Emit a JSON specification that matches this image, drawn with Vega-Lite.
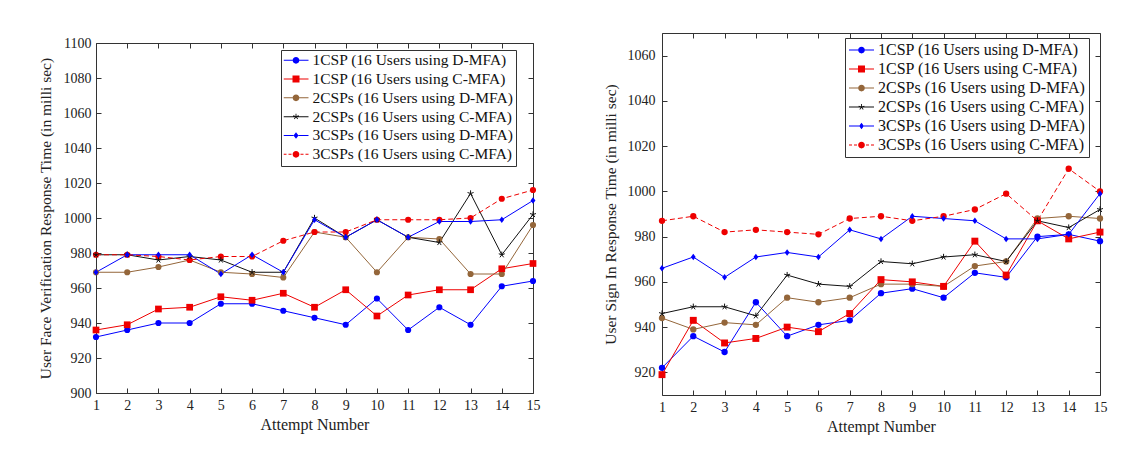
{
  "$schema": "https://vega.github.io/schema/vega-lite/v6.json",
  "background": "white",
  "padding": {"left": 37, "top": 32, "right": 0, "bottom": 0},
  "config": {
    "view": {"stroke": "#333", "strokeWidth": 1},
    "font": "Liberation Serif",
    "axis": {"labelFont": "Liberation Serif", "titleFont": "Liberation Serif", "labelColor": "#222", "titleColor": "#222", "titleFontWeight": "normal", "tickColor": "#333", "tickWidth": 1, "tickSize": -5, "labelPadding": 10, "domain": false, "grid": false, "labelFlush": false, "labelOverlap": false, "labelFontSize": 14, "format": "d"}
  },
  "datasets": {
    "face": [
      {"attempt":1,"series":"1CSP (16 Users using D-MFA)","ms":932},{"attempt":2,"series":"1CSP (16 Users using D-MFA)","ms":936},{"attempt":3,"series":"1CSP (16 Users using D-MFA)","ms":940},{"attempt":4,"series":"1CSP (16 Users using D-MFA)","ms":940},{"attempt":5,"series":"1CSP (16 Users using D-MFA)","ms":951},{"attempt":6,"series":"1CSP (16 Users using D-MFA)","ms":951},{"attempt":7,"series":"1CSP (16 Users using D-MFA)","ms":947},{"attempt":8,"series":"1CSP (16 Users using D-MFA)","ms":943},{"attempt":9,"series":"1CSP (16 Users using D-MFA)","ms":939},{"attempt":10,"series":"1CSP (16 Users using D-MFA)","ms":954},{"attempt":11,"series":"1CSP (16 Users using D-MFA)","ms":936},{"attempt":12,"series":"1CSP (16 Users using D-MFA)","ms":949},{"attempt":13,"series":"1CSP (16 Users using D-MFA)","ms":939},{"attempt":14,"series":"1CSP (16 Users using D-MFA)","ms":961},{"attempt":15,"series":"1CSP (16 Users using D-MFA)","ms":964},
      {"attempt":1,"series":"1CSP (16 Users using C-MFA)","ms":936},{"attempt":2,"series":"1CSP (16 Users using C-MFA)","ms":939},{"attempt":3,"series":"1CSP (16 Users using C-MFA)","ms":948},{"attempt":4,"series":"1CSP (16 Users using C-MFA)","ms":949},{"attempt":5,"series":"1CSP (16 Users using C-MFA)","ms":955},{"attempt":6,"series":"1CSP (16 Users using C-MFA)","ms":953},{"attempt":7,"series":"1CSP (16 Users using C-MFA)","ms":957},{"attempt":8,"series":"1CSP (16 Users using C-MFA)","ms":949},{"attempt":9,"series":"1CSP (16 Users using C-MFA)","ms":959},{"attempt":10,"series":"1CSP (16 Users using C-MFA)","ms":944},{"attempt":11,"series":"1CSP (16 Users using C-MFA)","ms":956},{"attempt":12,"series":"1CSP (16 Users using C-MFA)","ms":959},{"attempt":13,"series":"1CSP (16 Users using C-MFA)","ms":959},{"attempt":14,"series":"1CSP (16 Users using C-MFA)","ms":971},{"attempt":15,"series":"1CSP (16 Users using C-MFA)","ms":974},
      {"attempt":1,"series":"2CSPs (16 Users using D-MFA)","ms":969},{"attempt":2,"series":"2CSPs (16 Users using D-MFA)","ms":969},{"attempt":3,"series":"2CSPs (16 Users using D-MFA)","ms":972},{"attempt":4,"series":"2CSPs (16 Users using D-MFA)","ms":976},{"attempt":5,"series":"2CSPs (16 Users using D-MFA)","ms":969},{"attempt":6,"series":"2CSPs (16 Users using D-MFA)","ms":968},{"attempt":7,"series":"2CSPs (16 Users using D-MFA)","ms":966},{"attempt":8,"series":"2CSPs (16 Users using D-MFA)","ms":992},{"attempt":9,"series":"2CSPs (16 Users using D-MFA)","ms":989},{"attempt":10,"series":"2CSPs (16 Users using D-MFA)","ms":969},{"attempt":11,"series":"2CSPs (16 Users using D-MFA)","ms":989},{"attempt":12,"series":"2CSPs (16 Users using D-MFA)","ms":988},{"attempt":13,"series":"2CSPs (16 Users using D-MFA)","ms":968},{"attempt":14,"series":"2CSPs (16 Users using D-MFA)","ms":968},{"attempt":15,"series":"2CSPs (16 Users using D-MFA)","ms":996},
      {"attempt":1,"series":"2CSPs (16 Users using C-MFA)","ms":979},{"attempt":2,"series":"2CSPs (16 Users using C-MFA)","ms":979},{"attempt":3,"series":"2CSPs (16 Users using C-MFA)","ms":976},{"attempt":4,"series":"2CSPs (16 Users using C-MFA)","ms":978},{"attempt":5,"series":"2CSPs (16 Users using C-MFA)","ms":976},{"attempt":6,"series":"2CSPs (16 Users using C-MFA)","ms":969},{"attempt":7,"series":"2CSPs (16 Users using C-MFA)","ms":969},{"attempt":8,"series":"2CSPs (16 Users using C-MFA)","ms":1000},{"attempt":9,"series":"2CSPs (16 Users using C-MFA)","ms":989},{"attempt":10,"series":"2CSPs (16 Users using C-MFA)","ms":999},{"attempt":11,"series":"2CSPs (16 Users using C-MFA)","ms":989},{"attempt":12,"series":"2CSPs (16 Users using C-MFA)","ms":986},{"attempt":13,"series":"2CSPs (16 Users using C-MFA)","ms":1014},{"attempt":14,"series":"2CSPs (16 Users using C-MFA)","ms":979},{"attempt":15,"series":"2CSPs (16 Users using C-MFA)","ms":1002},
      {"attempt":1,"series":"3CSPs (16 Users using D-MFA)","ms":969},{"attempt":2,"series":"3CSPs (16 Users using D-MFA)","ms":979},{"attempt":3,"series":"3CSPs (16 Users using D-MFA)","ms":979},{"attempt":4,"series":"3CSPs (16 Users using D-MFA)","ms":979},{"attempt":5,"series":"3CSPs (16 Users using D-MFA)","ms":968},{"attempt":6,"series":"3CSPs (16 Users using D-MFA)","ms":979},{"attempt":7,"series":"3CSPs (16 Users using D-MFA)","ms":969},{"attempt":8,"series":"3CSPs (16 Users using D-MFA)","ms":999},{"attempt":9,"series":"3CSPs (16 Users using D-MFA)","ms":989},{"attempt":10,"series":"3CSPs (16 Users using D-MFA)","ms":999},{"attempt":11,"series":"3CSPs (16 Users using D-MFA)","ms":989},{"attempt":12,"series":"3CSPs (16 Users using D-MFA)","ms":998},{"attempt":13,"series":"3CSPs (16 Users using D-MFA)","ms":998},{"attempt":14,"series":"3CSPs (16 Users using D-MFA)","ms":999},{"attempt":15,"series":"3CSPs (16 Users using D-MFA)","ms":1010},
      {"attempt":1,"series":"3CSPs (16 Users using C-MFA)","ms":979},{"attempt":2,"series":"3CSPs (16 Users using C-MFA)","ms":979},{"attempt":3,"series":"3CSPs (16 Users using C-MFA)","ms":978},{"attempt":4,"series":"3CSPs (16 Users using C-MFA)","ms":976},{"attempt":5,"series":"3CSPs (16 Users using C-MFA)","ms":978},{"attempt":6,"series":"3CSPs (16 Users using C-MFA)","ms":978},{"attempt":7,"series":"3CSPs (16 Users using C-MFA)","ms":987},{"attempt":8,"series":"3CSPs (16 Users using C-MFA)","ms":992},{"attempt":9,"series":"3CSPs (16 Users using C-MFA)","ms":992},{"attempt":10,"series":"3CSPs (16 Users using C-MFA)","ms":999},{"attempt":11,"series":"3CSPs (16 Users using C-MFA)","ms":999},{"attempt":12,"series":"3CSPs (16 Users using C-MFA)","ms":999},{"attempt":13,"series":"3CSPs (16 Users using C-MFA)","ms":1000},{"attempt":14,"series":"3CSPs (16 Users using C-MFA)","ms":1011},{"attempt":15,"series":"3CSPs (16 Users using C-MFA)","ms":1016}
    ],
    "signin": [
      {"attempt":1,"series":"1CSP (16 Users using D-MFA)","ms":922},{"attempt":2,"series":"1CSP (16 Users using D-MFA)","ms":936},{"attempt":3,"series":"1CSP (16 Users using D-MFA)","ms":929},{"attempt":4,"series":"1CSP (16 Users using D-MFA)","ms":951},{"attempt":5,"series":"1CSP (16 Users using D-MFA)","ms":936},{"attempt":6,"series":"1CSP (16 Users using D-MFA)","ms":941},{"attempt":7,"series":"1CSP (16 Users using D-MFA)","ms":943},{"attempt":8,"series":"1CSP (16 Users using D-MFA)","ms":955},{"attempt":9,"series":"1CSP (16 Users using D-MFA)","ms":957},{"attempt":10,"series":"1CSP (16 Users using D-MFA)","ms":953},{"attempt":11,"series":"1CSP (16 Users using D-MFA)","ms":964},{"attempt":12,"series":"1CSP (16 Users using D-MFA)","ms":962},{"attempt":13,"series":"1CSP (16 Users using D-MFA)","ms":980},{"attempt":14,"series":"1CSP (16 Users using D-MFA)","ms":981},{"attempt":15,"series":"1CSP (16 Users using D-MFA)","ms":978},
      {"attempt":1,"series":"1CSP (16 Users using C-MFA)","ms":919},{"attempt":2,"series":"1CSP (16 Users using C-MFA)","ms":943},{"attempt":3,"series":"1CSP (16 Users using C-MFA)","ms":933},{"attempt":4,"series":"1CSP (16 Users using C-MFA)","ms":935},{"attempt":5,"series":"1CSP (16 Users using C-MFA)","ms":940},{"attempt":6,"series":"1CSP (16 Users using C-MFA)","ms":938},{"attempt":7,"series":"1CSP (16 Users using C-MFA)","ms":946},{"attempt":8,"series":"1CSP (16 Users using C-MFA)","ms":961},{"attempt":9,"series":"1CSP (16 Users using C-MFA)","ms":960},{"attempt":10,"series":"1CSP (16 Users using C-MFA)","ms":958},{"attempt":11,"series":"1CSP (16 Users using C-MFA)","ms":978},{"attempt":12,"series":"1CSP (16 Users using C-MFA)","ms":963},{"attempt":13,"series":"1CSP (16 Users using C-MFA)","ms":987},{"attempt":14,"series":"1CSP (16 Users using C-MFA)","ms":979},{"attempt":15,"series":"1CSP (16 Users using C-MFA)","ms":982},
      {"attempt":1,"series":"2CSPs (16 Users using D-MFA)","ms":944},{"attempt":2,"series":"2CSPs (16 Users using D-MFA)","ms":939},{"attempt":3,"series":"2CSPs (16 Users using D-MFA)","ms":942},{"attempt":4,"series":"2CSPs (16 Users using D-MFA)","ms":941},{"attempt":5,"series":"2CSPs (16 Users using D-MFA)","ms":953},{"attempt":6,"series":"2CSPs (16 Users using D-MFA)","ms":951},{"attempt":7,"series":"2CSPs (16 Users using D-MFA)","ms":953},{"attempt":8,"series":"2CSPs (16 Users using D-MFA)","ms":959},{"attempt":9,"series":"2CSPs (16 Users using D-MFA)","ms":959},{"attempt":10,"series":"2CSPs (16 Users using D-MFA)","ms":958},{"attempt":11,"series":"2CSPs (16 Users using D-MFA)","ms":967},{"attempt":12,"series":"2CSPs (16 Users using D-MFA)","ms":969},{"attempt":13,"series":"2CSPs (16 Users using D-MFA)","ms":988},{"attempt":14,"series":"2CSPs (16 Users using D-MFA)","ms":989},{"attempt":15,"series":"2CSPs (16 Users using D-MFA)","ms":988},
      {"attempt":1,"series":"2CSPs (16 Users using C-MFA)","ms":946},{"attempt":2,"series":"2CSPs (16 Users using C-MFA)","ms":949},{"attempt":3,"series":"2CSPs (16 Users using C-MFA)","ms":949},{"attempt":4,"series":"2CSPs (16 Users using C-MFA)","ms":945},{"attempt":5,"series":"2CSPs (16 Users using C-MFA)","ms":963},{"attempt":6,"series":"2CSPs (16 Users using C-MFA)","ms":959},{"attempt":7,"series":"2CSPs (16 Users using C-MFA)","ms":958},{"attempt":8,"series":"2CSPs (16 Users using C-MFA)","ms":969},{"attempt":9,"series":"2CSPs (16 Users using C-MFA)","ms":968},{"attempt":10,"series":"2CSPs (16 Users using C-MFA)","ms":971},{"attempt":11,"series":"2CSPs (16 Users using C-MFA)","ms":972},{"attempt":12,"series":"2CSPs (16 Users using C-MFA)","ms":969},{"attempt":13,"series":"2CSPs (16 Users using C-MFA)","ms":987},{"attempt":14,"series":"2CSPs (16 Users using C-MFA)","ms":984},{"attempt":15,"series":"2CSPs (16 Users using C-MFA)","ms":992},
      {"attempt":1,"series":"3CSPs (16 Users using D-MFA)","ms":966},{"attempt":2,"series":"3CSPs (16 Users using D-MFA)","ms":971},{"attempt":3,"series":"3CSPs (16 Users using D-MFA)","ms":962},{"attempt":4,"series":"3CSPs (16 Users using D-MFA)","ms":971},{"attempt":5,"series":"3CSPs (16 Users using D-MFA)","ms":973},{"attempt":6,"series":"3CSPs (16 Users using D-MFA)","ms":971},{"attempt":7,"series":"3CSPs (16 Users using D-MFA)","ms":983},{"attempt":8,"series":"3CSPs (16 Users using D-MFA)","ms":979},{"attempt":9,"series":"3CSPs (16 Users using D-MFA)","ms":989},{"attempt":10,"series":"3CSPs (16 Users using D-MFA)","ms":988},{"attempt":11,"series":"3CSPs (16 Users using D-MFA)","ms":987},{"attempt":12,"series":"3CSPs (16 Users using D-MFA)","ms":979},{"attempt":13,"series":"3CSPs (16 Users using D-MFA)","ms":979},{"attempt":14,"series":"3CSPs (16 Users using D-MFA)","ms":981},{"attempt":15,"series":"3CSPs (16 Users using D-MFA)","ms":999},
      {"attempt":1,"series":"3CSPs (16 Users using C-MFA)","ms":987},{"attempt":2,"series":"3CSPs (16 Users using C-MFA)","ms":989},{"attempt":3,"series":"3CSPs (16 Users using C-MFA)","ms":982},{"attempt":4,"series":"3CSPs (16 Users using C-MFA)","ms":983},{"attempt":5,"series":"3CSPs (16 Users using C-MFA)","ms":982},{"attempt":6,"series":"3CSPs (16 Users using C-MFA)","ms":981},{"attempt":7,"series":"3CSPs (16 Users using C-MFA)","ms":988},{"attempt":8,"series":"3CSPs (16 Users using C-MFA)","ms":989},{"attempt":9,"series":"3CSPs (16 Users using C-MFA)","ms":987},{"attempt":10,"series":"3CSPs (16 Users using C-MFA)","ms":989},{"attempt":11,"series":"3CSPs (16 Users using C-MFA)","ms":992},{"attempt":12,"series":"3CSPs (16 Users using C-MFA)","ms":999},{"attempt":13,"series":"3CSPs (16 Users using C-MFA)","ms":987},{"attempt":14,"series":"3CSPs (16 Users using C-MFA)","ms":1010},{"attempt":15,"series":"3CSPs (16 Users using C-MFA)","ms":1000}
    ]
  },
  "spacing": 61,
  "resolve": {"scale": {"color": "independent", "shape": "independent"}, "legend": {"color": "independent", "shape": "independent"}},
  "hconcat": [
    {
      "spacing": 1,
      "resolve": {"scale": {"color": "independent", "shape": "independent"}, "legend": {"color": "independent", "shape": "independent"}},
      "vconcat": [
        {"width": 1, "height": 1, "view": {"stroke": null}, "data": {"values": []}, "mark": "point", "encoding": {}},
        {
          "width": 437, "height": 350,
          "data": {"name": "face"},
          "resolve": {"axis": {"x": "independent", "y": "independent"}},
          "layer": [
            {
              "mark": {"type": "point", "filled": true, "opacity": 0, "size": 1},
              "encoding": {
                "x": {"field": "attempt", "type": "quantitative", "scale": {"domain": [1, 15], "nice": false, "zero": false}, "axis": null},
                "y": {"field": "ms", "type": "quantitative", "scale": {"domain": [900, 1100], "nice": false, "zero": false}, "axis": null},
                "color": {"field": "series", "type": "nominal", "scale": {"domain": ["1CSP (16 Users using D-MFA)","1CSP (16 Users using C-MFA)","2CSPs (16 Users using D-MFA)","2CSPs (16 Users using C-MFA)","3CSPs (16 Users using D-MFA)","3CSPs (16 Users using C-MFA)"], "range": ["#0000ff","#ee0000","#94663a","#111111","#0000ff","#ee0000"]},
                  "legend": {"orient": "none", "legendX": 185, "legendY": 7, "title": null, "direction": "vertical", "fillColor": "white", "strokeColor": "#333", "padding": 2.5, "cornerRadius": 0, "labelFont": "Liberation Serif", "labelFontSize": 15.5, "labelColor": "#111", "labelLimit": 400, "labelOffset": 4, "symbolSize": 625, "symbolStrokeWidth": 0, "symbolOpacity": 1, "clipHeight": 15.5, "rowPadding": 1.8, "encode": {"symbols": {"update": {"opacity": {"value": 1}, "fillOpacity": {"value": 1}}}}}},
                "shape": {"field": "series", "type": "nominal", "scale": {"domain": ["1CSP (16 Users using D-MFA)","1CSP (16 Users using C-MFA)","2CSPs (16 Users using D-MFA)","2CSPs (16 Users using C-MFA)","3CSPs (16 Users using D-MFA)","3CSPs (16 Users using C-MFA)"], "range": [
                  "M-1,-0.04L-0.27,-0.04L-0.27,0.04L-1,0.04ZM0.27,-0.04L1,-0.04L1,0.04L0.27,0.04ZM0.27,0A0.27,0.27,0,1,1,-0.27,0A0.27,0.27,0,1,1,0.27,0Z",
                  "M-1,-0.04L-0.28,-0.04L-0.28,0.04L-1,0.04ZM0.28,-0.04L1,-0.04L1,0.04L0.28,0.04ZM-0.28,-0.28L0.28,-0.28L0.28,0.28L-0.28,0.28Z",
                  "M-1,-0.04L-0.27,-0.04L-0.27,0.04L-1,0.04ZM0.27,-0.04L1,-0.04L1,0.04L0.27,0.04ZM0.27,0A0.27,0.27,0,1,1,-0.27,0A0.27,0.27,0,1,1,0.27,0Z",
                  "M-1,-0.04L1,-0.04L1,0.04L-1,0.04ZM0.035,0L-0.035,0L-0.035,-0.24L0.035,-0.24ZM0.011,0.033L-0.011,-0.033L0.217,-0.107L0.239,-0.041ZM-0.028,0.021L0.028,-0.021L0.169,0.173L0.113,0.215ZM-0.028,-0.021L0.028,0.021L-0.113,0.215L-0.169,0.173ZM0.011,-0.033L-0.011,0.033L-0.239,-0.041L-0.217,-0.107Z",
                  "M-1,-0.04L-0.2,-0.04L-0.2,0.04L-1,0.04ZM0.2,-0.04L1,-0.04L1,0.04L0.2,0.04ZM0,-0.26L0.2,0L0,0.26L-0.2,0Z",
                  "M-1,-0.04L-0.76,-0.04L-0.76,0.04L-1,0.04ZM-0.6,-0.04L-0.36,-0.04L-0.36,0.04L-0.6,0.04ZM0.36,-0.04L0.6,-0.04L0.6,0.04L0.36,0.04ZM0.76,-0.04L1,-0.04L1,0.04L0.76,0.04ZM0.27,0A0.27,0.27,0,1,1,-0.27,0A0.27,0.27,0,1,1,0.27,0Z"
                ]},
                  "legend": {"orient": "none", "legendX": 185, "legendY": 7, "title": null, "direction": "vertical", "fillColor": "white", "strokeColor": "#333", "padding": 2.5, "cornerRadius": 0, "labelFont": "Liberation Serif", "labelFontSize": 15.5, "labelColor": "#111", "labelLimit": 400, "labelOffset": 4, "symbolSize": 625, "symbolStrokeWidth": 0, "symbolOpacity": 1, "clipHeight": 15.5, "rowPadding": 1.8, "encode": {"symbols": {"update": {"opacity": {"value": 1}, "fillOpacity": {"value": 1}}}}}}
              }
            },
            {
              "transform": [{"filter": "datum.series !== '3CSPs (16 Users using C-MFA)'"}],
              "mark": {"type": "line", "strokeWidth": 1},
              "encoding": {
                "x": {"field": "attempt", "type": "quantitative", "scale": {"domain": [1, 15], "nice": false, "zero": false}, "axis": {"orient": "bottom", "values": [1,2,3,4,5,6,7,8,9,10,11,12,13,14,15], "title": "Attempt Number", "titleFontSize": 16, "titlePadding": 4}},
                "y": {"field": "ms", "type": "quantitative", "scale": {"domain": [900, 1100], "nice": false, "zero": false}, "axis": {"orient": "left", "values": [900,920,940,960,980,1000,1020,1040,1060,1080,1100], "title": "User Face Verification Response Time (in milli sec)", "titleFontSize": 15.5, "titlePadding": 10}},
                "color": {"field": "series", "type": "nominal", "scale": {"domain": ["1CSP (16 Users using D-MFA)","1CSP (16 Users using C-MFA)","2CSPs (16 Users using D-MFA)","2CSPs (16 Users using C-MFA)","3CSPs (16 Users using D-MFA)","3CSPs (16 Users using C-MFA)"], "range": ["#0000ff","#ee0000","#94663a","#111111","#0000ff","#ee0000"]}, "legend": null}
              }
            },
            {
              "transform": [{"filter": "datum.series === '3CSPs (16 Users using C-MFA)'"}],
              "mark": {"type": "line", "strokeWidth": 1, "strokeDash": [5, 3]},
              "encoding": {
                "x": {"field": "attempt", "type": "quantitative", "scale": {"domain": [1, 15], "nice": false, "zero": false}, "axis": null},
                "y": {"field": "ms", "type": "quantitative", "scale": {"domain": [900, 1100], "nice": false, "zero": false}, "axis": null},
                "color": {"field": "series", "type": "nominal", "scale": {"domain": ["1CSP (16 Users using D-MFA)","1CSP (16 Users using C-MFA)","2CSPs (16 Users using D-MFA)","2CSPs (16 Users using C-MFA)","3CSPs (16 Users using D-MFA)","3CSPs (16 Users using C-MFA)"], "range": ["#0000ff","#ee0000","#94663a","#111111","#0000ff","#ee0000"]}, "legend": null}
              }
            },
            {
              "transform": [{"filter": {"field": "series", "oneOf": ["1CSP (16 Users using D-MFA)", "2CSPs (16 Users using D-MFA)", "3CSPs (16 Users using C-MFA)"]}}],
              "mark": {"type": "point", "shape": "circle", "filled": true, "size": 38, "opacity": 1},
              "encoding": {
                "x": {"field": "attempt", "type": "quantitative", "scale": {"domain": [1, 15], "nice": false, "zero": false}, "axis": {"orient": "top", "values": [1,2,3,4,5,6,7,8,9,10,11,12,13,14,15], "labels": false, "title": null}},
                "y": {"field": "ms", "type": "quantitative", "scale": {"domain": [900, 1100], "nice": false, "zero": false}, "axis": {"orient": "right", "values": [900,920,940,960,980,1000,1020,1040,1060,1080,1100], "labels": false, "title": null}},
                "color": {"field": "series", "type": "nominal", "scale": {"domain": ["1CSP (16 Users using D-MFA)","1CSP (16 Users using C-MFA)","2CSPs (16 Users using D-MFA)","2CSPs (16 Users using C-MFA)","3CSPs (16 Users using D-MFA)","3CSPs (16 Users using C-MFA)"], "range": ["#0000ff","#ee0000","#94663a","#111111","#0000ff","#ee0000"]}, "legend": null}
              }
            },
            {
              "transform": [{"filter": "datum.series === '1CSP (16 Users using C-MFA)'"}],
              "mark": {"type": "point", "shape": "square", "filled": true, "size": 45, "opacity": 1},
              "encoding": {
                "x": {"field": "attempt", "type": "quantitative", "scale": {"domain": [1, 15], "nice": false, "zero": false}, "axis": null},
                "y": {"field": "ms", "type": "quantitative", "scale": {"domain": [900, 1100], "nice": false, "zero": false}, "axis": null},
                "color": {"field": "series", "type": "nominal", "scale": {"domain": ["1CSP (16 Users using D-MFA)","1CSP (16 Users using C-MFA)","2CSPs (16 Users using D-MFA)","2CSPs (16 Users using C-MFA)","3CSPs (16 Users using D-MFA)","3CSPs (16 Users using C-MFA)"], "range": ["#0000ff","#ee0000","#94663a","#111111","#0000ff","#ee0000"]}, "legend": null}
              }
            },
            {
              "transform": [{"filter": "datum.series === '2CSPs (16 Users using C-MFA)'"}],
              "mark": {"type": "point", "shape": "M0,-1L0,0M0,0L0.951,-0.309M0,0L0.588,0.809M0,0L-0.588,0.809M0,0L-0.951,-0.309", "filled": false, "size": 40, "strokeWidth": 1, "opacity": 1},
              "encoding": {
                "x": {"field": "attempt", "type": "quantitative", "scale": {"domain": [1, 15], "nice": false, "zero": false}, "axis": null},
                "y": {"field": "ms", "type": "quantitative", "scale": {"domain": [900, 1100], "nice": false, "zero": false}, "axis": null},
                "color": {"field": "series", "type": "nominal", "scale": {"domain": ["1CSP (16 Users using D-MFA)","1CSP (16 Users using C-MFA)","2CSPs (16 Users using D-MFA)","2CSPs (16 Users using C-MFA)","3CSPs (16 Users using D-MFA)","3CSPs (16 Users using C-MFA)"], "range": ["#0000ff","#ee0000","#94663a","#111111","#0000ff","#ee0000"]}, "legend": null}
              }
            },
            {
              "transform": [{"filter": "datum.series === '3CSPs (16 Users using D-MFA)'"}],
              "mark": {"type": "point", "shape": "M0,-1L0.75,0L0,1L-0.75,0Z", "filled": true, "size": 42, "opacity": 1},
              "encoding": {
                "x": {"field": "attempt", "type": "quantitative", "scale": {"domain": [1, 15], "nice": false, "zero": false}, "axis": null},
                "y": {"field": "ms", "type": "quantitative", "scale": {"domain": [900, 1100], "nice": false, "zero": false}, "axis": null},
                "color": {"field": "series", "type": "nominal", "scale": {"domain": ["1CSP (16 Users using D-MFA)","1CSP (16 Users using C-MFA)","2CSPs (16 Users using D-MFA)","2CSPs (16 Users using C-MFA)","3CSPs (16 Users using D-MFA)","3CSPs (16 Users using C-MFA)"], "range": ["#0000ff","#ee0000","#94663a","#111111","#0000ff","#ee0000"]}, "legend": null}
              }
            }
          ]
        }
      ]
    },
    {
      "width": 438, "height": 362,
      "data": {"name": "signin"},
      "resolve": {"axis": {"x": "independent", "y": "independent"}},
      "layer": [
        {
          "mark": {"type": "point", "filled": true, "opacity": 0, "size": 1},
          "encoding": {
            "x": {"field": "attempt", "type": "quantitative", "scale": {"domain": [1, 15], "nice": false, "zero": false}, "axis": null},
            "y": {"field": "ms", "type": "quantitative", "scale": {"domain": [910, 1070], "nice": false, "zero": false}, "axis": null},
            "color": {"field": "series", "type": "nominal", "scale": {"domain": ["1CSP (16 Users using D-MFA)","1CSP (16 Users using C-MFA)","2CSPs (16 Users using D-MFA)","2CSPs (16 Users using C-MFA)","3CSPs (16 Users using D-MFA)","3CSPs (16 Users using C-MFA)"], "range": ["#0000ff","#ee0000","#94663a","#111111","#0000ff","#ee0000"]},
              "legend": {"orient": "none", "legendX": 183, "legendY": 5, "title": null, "direction": "vertical", "fillColor": "white", "strokeColor": "#333", "padding": 4, "cornerRadius": 0, "labelFont": "Liberation Serif", "labelFontSize": 16, "labelColor": "#111", "labelLimit": 400, "labelOffset": 4, "symbolSize": 625, "symbolStrokeWidth": 0, "symbolOpacity": 1, "clipHeight": 16, "rowPadding": 3, "encode": {"symbols": {"update": {"opacity": {"value": 1}, "fillOpacity": {"value": 1}}}}}},
            "shape": {"field": "series", "type": "nominal", "scale": {"domain": ["1CSP (16 Users using D-MFA)","1CSP (16 Users using C-MFA)","2CSPs (16 Users using D-MFA)","2CSPs (16 Users using C-MFA)","3CSPs (16 Users using D-MFA)","3CSPs (16 Users using C-MFA)"], "range": [
              "M-1,-0.04L-0.27,-0.04L-0.27,0.04L-1,0.04ZM0.27,-0.04L1,-0.04L1,0.04L0.27,0.04ZM0.27,0A0.27,0.27,0,1,1,-0.27,0A0.27,0.27,0,1,1,0.27,0Z",
              "M-1,-0.04L-0.28,-0.04L-0.28,0.04L-1,0.04ZM0.28,-0.04L1,-0.04L1,0.04L0.28,0.04ZM-0.28,-0.28L0.28,-0.28L0.28,0.28L-0.28,0.28Z",
              "M-1,-0.04L-0.27,-0.04L-0.27,0.04L-1,0.04ZM0.27,-0.04L1,-0.04L1,0.04L0.27,0.04ZM0.27,0A0.27,0.27,0,1,1,-0.27,0A0.27,0.27,0,1,1,0.27,0Z",
              "M-1,-0.04L1,-0.04L1,0.04L-1,0.04ZM0.035,0L-0.035,0L-0.035,-0.24L0.035,-0.24ZM0.011,0.033L-0.011,-0.033L0.217,-0.107L0.239,-0.041ZM-0.028,0.021L0.028,-0.021L0.169,0.173L0.113,0.215ZM-0.028,-0.021L0.028,0.021L-0.113,0.215L-0.169,0.173ZM0.011,-0.033L-0.011,0.033L-0.239,-0.041L-0.217,-0.107Z",
              "M-1,-0.04L-0.2,-0.04L-0.2,0.04L-1,0.04ZM0.2,-0.04L1,-0.04L1,0.04L0.2,0.04ZM0,-0.26L0.2,0L0,0.26L-0.2,0Z",
              "M-1,-0.04L-0.76,-0.04L-0.76,0.04L-1,0.04ZM-0.6,-0.04L-0.36,-0.04L-0.36,0.04L-0.6,0.04ZM0.36,-0.04L0.6,-0.04L0.6,0.04L0.36,0.04ZM0.76,-0.04L1,-0.04L1,0.04L0.76,0.04ZM0.27,0A0.27,0.27,0,1,1,-0.27,0A0.27,0.27,0,1,1,0.27,0Z"
            ]},
              "legend": {"orient": "none", "legendX": 183, "legendY": 5, "title": null, "direction": "vertical", "fillColor": "white", "strokeColor": "#333", "padding": 4, "cornerRadius": 0, "labelFont": "Liberation Serif", "labelFontSize": 16, "labelColor": "#111", "labelLimit": 400, "labelOffset": 4, "symbolSize": 625, "symbolStrokeWidth": 0, "symbolOpacity": 1, "clipHeight": 16, "rowPadding": 3, "encode": {"symbols": {"update": {"opacity": {"value": 1}, "fillOpacity": {"value": 1}}}}}}
          }
        },
        {
          "transform": [{"filter": "datum.series !== '3CSPs (16 Users using C-MFA)'"}],
          "mark": {"type": "line", "strokeWidth": 1},
          "encoding": {
            "x": {"field": "attempt", "type": "quantitative", "scale": {"domain": [1, 15], "nice": false, "zero": false}, "axis": {"orient": "bottom", "values": [1,2,3,4,5,6,7,8,9,10,11,12,13,14,15], "title": "Attempt Number", "titleFontSize": 16, "titlePadding": 4}},
            "y": {"field": "ms", "type": "quantitative", "scale": {"domain": [910, 1070], "nice": false, "zero": false}, "axis": {"orient": "left", "values": [920,940,960,980,1000,1020,1040,1060], "title": "User Sign In Response Time (in milli sec)", "titleFontSize": 15.5, "titlePadding": 9, "labelPadding": 12}},
            "color": {"field": "series", "type": "nominal", "scale": {"domain": ["1CSP (16 Users using D-MFA)","1CSP (16 Users using C-MFA)","2CSPs (16 Users using D-MFA)","2CSPs (16 Users using C-MFA)","3CSPs (16 Users using D-MFA)","3CSPs (16 Users using C-MFA)"], "range": ["#0000ff","#ee0000","#94663a","#111111","#0000ff","#ee0000"]}, "legend": null}
          }
        },
        {
          "transform": [{"filter": "datum.series === '3CSPs (16 Users using C-MFA)'"}],
          "mark": {"type": "line", "strokeWidth": 1, "strokeDash": [5, 3]},
          "encoding": {
            "x": {"field": "attempt", "type": "quantitative", "scale": {"domain": [1, 15], "nice": false, "zero": false}, "axis": null},
            "y": {"field": "ms", "type": "quantitative", "scale": {"domain": [910, 1070], "nice": false, "zero": false}, "axis": null},
            "color": {"field": "series", "type": "nominal", "scale": {"domain": ["1CSP (16 Users using D-MFA)","1CSP (16 Users using C-MFA)","2CSPs (16 Users using D-MFA)","2CSPs (16 Users using C-MFA)","3CSPs (16 Users using D-MFA)","3CSPs (16 Users using C-MFA)"], "range": ["#0000ff","#ee0000","#94663a","#111111","#0000ff","#ee0000"]}, "legend": null}
          }
        },
        {
          "transform": [{"filter": {"field": "series", "oneOf": ["1CSP (16 Users using D-MFA)", "2CSPs (16 Users using D-MFA)", "3CSPs (16 Users using C-MFA)"]}}],
          "mark": {"type": "point", "shape": "circle", "filled": true, "size": 40, "opacity": 1},
          "encoding": {
            "x": {"field": "attempt", "type": "quantitative", "scale": {"domain": [1, 15], "nice": false, "zero": false}, "axis": {"orient": "top", "values": [1,2,3,4,5,6,7,8,9,10,11,12,13,14,15], "labels": false, "title": null}},
            "y": {"field": "ms", "type": "quantitative", "scale": {"domain": [910, 1070], "nice": false, "zero": false}, "axis": {"orient": "right", "values": [920,940,960,980,1000,1020,1040,1060], "labels": false, "title": null}},
            "color": {"field": "series", "type": "nominal", "scale": {"domain": ["1CSP (16 Users using D-MFA)","1CSP (16 Users using C-MFA)","2CSPs (16 Users using D-MFA)","2CSPs (16 Users using C-MFA)","3CSPs (16 Users using D-MFA)","3CSPs (16 Users using C-MFA)"], "range": ["#0000ff","#ee0000","#94663a","#111111","#0000ff","#ee0000"]}, "legend": null}
          }
        },
        {
          "transform": [{"filter": "datum.series === '1CSP (16 Users using C-MFA)'"}],
          "mark": {"type": "point", "shape": "square", "filled": true, "size": 48, "opacity": 1},
          "encoding": {
            "x": {"field": "attempt", "type": "quantitative", "scale": {"domain": [1, 15], "nice": false, "zero": false}, "axis": null},
            "y": {"field": "ms", "type": "quantitative", "scale": {"domain": [910, 1070], "nice": false, "zero": false}, "axis": null},
            "color": {"field": "series", "type": "nominal", "scale": {"domain": ["1CSP (16 Users using D-MFA)","1CSP (16 Users using C-MFA)","2CSPs (16 Users using D-MFA)","2CSPs (16 Users using C-MFA)","3CSPs (16 Users using D-MFA)","3CSPs (16 Users using C-MFA)"], "range": ["#0000ff","#ee0000","#94663a","#111111","#0000ff","#ee0000"]}, "legend": null}
          }
        },
        {
          "transform": [{"filter": "datum.series === '2CSPs (16 Users using C-MFA)'"}],
          "mark": {"type": "point", "shape": "M0,-1L0,0M0,0L0.951,-0.309M0,0L0.588,0.809M0,0L-0.588,0.809M0,0L-0.951,-0.309", "filled": false, "size": 40, "strokeWidth": 1, "opacity": 1},
          "encoding": {
            "x": {"field": "attempt", "type": "quantitative", "scale": {"domain": [1, 15], "nice": false, "zero": false}, "axis": null},
            "y": {"field": "ms", "type": "quantitative", "scale": {"domain": [910, 1070], "nice": false, "zero": false}, "axis": null},
            "color": {"field": "series", "type": "nominal", "scale": {"domain": ["1CSP (16 Users using D-MFA)","1CSP (16 Users using C-MFA)","2CSPs (16 Users using D-MFA)","2CSPs (16 Users using C-MFA)","3CSPs (16 Users using D-MFA)","3CSPs (16 Users using C-MFA)"], "range": ["#0000ff","#ee0000","#94663a","#111111","#0000ff","#ee0000"]}, "legend": null}
          }
        },
        {
          "transform": [{"filter": "datum.series === '3CSPs (16 Users using D-MFA)'"}],
          "mark": {"type": "point", "shape": "M0,-1L0.75,0L0,1L-0.75,0Z", "filled": true, "size": 42, "opacity": 1},
          "encoding": {
            "x": {"field": "attempt", "type": "quantitative", "scale": {"domain": [1, 15], "nice": false, "zero": false}, "axis": null},
            "y": {"field": "ms", "type": "quantitative", "scale": {"domain": [910, 1070], "nice": false, "zero": false}, "axis": null},
            "color": {"field": "series", "type": "nominal", "scale": {"domain": ["1CSP (16 Users using D-MFA)","1CSP (16 Users using C-MFA)","2CSPs (16 Users using D-MFA)","2CSPs (16 Users using C-MFA)","3CSPs (16 Users using D-MFA)","3CSPs (16 Users using C-MFA)"], "range": ["#0000ff","#ee0000","#94663a","#111111","#0000ff","#ee0000"]}, "legend": null}
          }
        }
      ]
    }
  ]
}
